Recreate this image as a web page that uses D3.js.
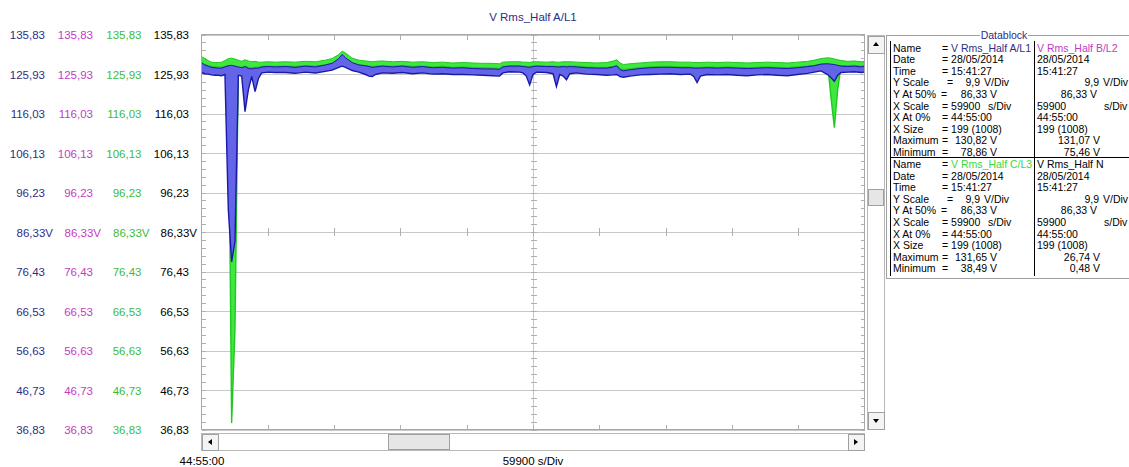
<!DOCTYPE html>
<html>
<head>
<meta charset="utf-8">
<script src="https://cdn.jsdelivr.net/npm/d3@7"></script>
<style>
body { margin: 0; background: #fff; }
svg { display: block; font-family: "Liberation Sans", Arial, sans-serif; font-size: 11.5px; }
.db text { font-size: 10.5px; }
</style>
</head>
<body>
<div id="chart"></div>
<script>
// sample number (of 199 shown) and min / max envelope of each phase, in volts
const sampleIdx = [0,1,2,3,4,5,6,7,8,9,10,11,12,13,14,15,16,17,18,20,22,25,28,31,34,37,39,41,42,43,45,47,49,50,51,52,54,57,60,63,66,69,72,75,78,81,84,87,89,90,92,95,96,97,98,99,100,103,105,106,107,108,109,110,112,115,118,121,123,124,125,126,128,131,134,137,140,143,146,147,148,149,151,154,157,160,163,166,169,172,175,178,181,183,185,187,188,189,190,191,193,195,197,198];

const phaseC_hi = [130.3,129.8,129.3,128.9,128.8,128.8,128.9,129.3,129.8,129.9,129.7,129.4,129.1,129.5,129.2,129.0,129.1,128.9,128.9,129.0,128.9,129.0,128.9,129.1,129.0,129.4,129.8,130.8,131.65,131.2,129.9,129.4,129.2,129.1,129.0,129.1,129.2,129.0,129.1,128.9,129.0,128.8,128.9,128.7,128.8,128.7,128.6,128.6,128.5,128.9,129.0,129.0,128.9,128.9,128.8,129.0,129.0,128.9,129.0,128.9,128.9,129.0,129.0,129.0,128.9,128.8,128.7,128.8,129.2,129.5,128.7,128.3,128.5,128.7,128.9,129.0,129.0,128.9,128.9,128.8,128.8,128.8,128.9,128.8,128.9,128.8,128.7,128.8,128.9,128.8,128.7,128.9,129.1,129.4,129.8,130.0,129.9,129.7,129.5,129.3,129.1,129.2,129.0,129.1];
const phaseC_lo = [128.6,128.3,128.0,127.8,127.7,127.7,127.6,127.8,128.0,38.49,62.0,127.7,127.6,127.9,127.6,127.5,127.6,127.6,127.8,127.9,127.8,127.9,127.8,128.0,127.9,128.2,128.5,129.2,129.6,129.3,128.6,128.2,128.0,127.9,127.8,127.9,128.0,127.9,128.0,127.8,127.9,127.7,127.8,127.6,127.7,127.5,127.5,127.4,127.3,127.8,128.0,128.0,127.9,127.8,127.8,127.9,128.0,127.9,127.9,127.8,127.8,127.9,127.8,127.9,127.9,127.7,127.6,127.6,127.8,128.0,127.3,127.0,127.2,127.5,127.7,127.8,127.8,127.7,127.7,127.6,127.6,127.6,127.7,127.6,127.7,127.6,127.5,127.6,127.7,127.6,127.5,127.7,127.9,128.1,128.4,128.3,120.0,112.5,122.0,128.0,128.0,128.1,127.9,128.0];

const phaseB_hi = [129.0,128.4,128.0,127.6,127.5,127.4,127.5,127.8,128.2,128.3,128.1,127.9,127.6,127.8,127.5,127.5,127.6,127.6,127.8,127.9,127.8,127.9,127.8,128.0,127.9,128.3,128.7,130.0,131.07,130.4,129.0,128.4,128.1,127.9,127.7,127.8,128.0,127.9,128.0,127.8,127.9,127.7,127.8,127.6,127.7,127.5,127.4,127.4,127.3,127.9,128.0,128.0,127.9,127.8,127.8,127.9,128.0,127.9,127.9,127.8,127.8,127.9,127.8,127.9,127.9,127.7,127.6,127.6,127.9,128.2,127.3,127.0,127.2,127.5,127.7,127.8,127.8,127.7,127.7,127.6,127.6,127.6,127.7,127.6,127.7,127.6,127.5,127.6,127.7,127.6,127.5,127.7,127.9,128.2,128.6,128.7,128.6,128.4,128.3,128.1,128.0,128.1,128.0,128.1];
const phaseB_lo = [127.5,127.2,127.0,126.8,126.8,126.7,126.6,126.9,127.0,75.46,86.0,126.8,126.5,121.0,124.0,126.5,124.5,126.2,126.9,127.0,126.9,127.0,126.8,127.1,126.9,127.3,127.6,128.3,128.6,128.4,127.6,127.2,126.8,126.5,126.0,126.4,126.9,126.8,127.0,126.8,126.9,126.7,126.8,126.6,126.6,126.5,126.4,126.3,126.2,126.9,127.1,127.0,126.9,126.2,124.0,126.5,127.0,126.9,126.8,124.5,126.6,126.5,125.5,126.7,126.9,126.7,126.6,126.5,126.6,126.8,126.0,125.8,126.0,126.3,126.5,126.6,126.6,126.5,126.6,126.2,125.0,126.3,126.5,126.4,126.5,126.4,126.3,126.4,126.5,126.3,126.2,126.5,126.8,127.1,127.3,126.5,125.0,124.0,126.0,126.9,127.0,127.1,126.9,127.0];

const phaseA_hi = [128.8,128.2,127.9,127.6,127.5,127.4,127.4,127.7,128.0,128.1,127.9,127.7,127.5,127.8,127.3,127.2,127.4,127.4,127.7,127.8,127.7,127.8,127.6,127.9,127.7,128.2,128.6,129.8,130.82,130.0,128.8,128.2,128.0,127.8,127.6,127.7,127.9,127.7,127.9,127.6,127.8,127.5,127.6,127.4,127.5,127.3,127.2,127.2,127.1,127.7,127.9,127.9,127.8,127.7,127.6,127.8,127.9,127.8,127.8,127.7,127.7,127.8,127.7,127.8,127.7,127.5,127.4,127.4,127.7,128.0,127.0,126.7,127.0,127.3,127.5,127.6,127.6,127.5,127.5,127.4,127.4,127.4,127.5,127.4,127.5,127.4,127.3,127.4,127.5,127.4,127.3,127.5,127.8,128.0,128.4,128.5,128.4,128.3,128.1,127.9,127.8,127.9,127.7,127.9];
const phaseA_lo = [126.3,126.0,125.9,125.7,125.6,125.6,125.5,125.8,92.0,78.86,84.0,125.6,125.4,116.5,122.0,125.3,121.5,124.8,126.2,126.4,126.3,126.3,126.1,126.4,126.2,126.6,126.9,127.6,127.9,127.6,126.8,126.4,125.8,125.4,125.3,125.8,126.2,126.1,126.3,126.0,126.2,125.9,126.0,125.8,125.8,125.7,125.6,125.5,125.4,126.2,126.5,126.4,126.2,125.4,123.2,125.8,126.4,126.3,126.0,122.8,125.8,125.4,124.5,126.0,126.2,125.9,125.8,125.6,125.7,125.8,125.3,125.1,125.4,125.7,125.8,125.9,126.0,125.8,125.9,125.3,123.8,125.4,125.8,125.7,125.8,125.6,125.5,125.7,125.8,125.6,125.5,125.8,126.1,126.4,126.7,125.8,125.0,124.1,125.6,126.3,126.4,126.5,126.3,126.4];

const yTickValues = [135.83, 125.93, 116.03, 106.13, 96.23, 86.33, 76.43, 66.53, 56.63, 46.73, 36.83];
const yTickLabels = ["135,83", "125,93", "116,03", "106,13", "96,23", "86,33V", "76,43", "66,53", "56,63", "46,73", "36,83"];
const axisColours = ["#2e2e86", "#c23cc2", "#3cbc3c", "#000000"];

const dbLabels = ["Name", "Date", "Time", "Y Scale", "Y At 50%", "X Scale", "X At 0%", "X Size", "Maximum", "Minimum"];
const channelNames = ["V Rms_Half A/L1", "V Rms_Half B/L2", "V Rms_Half C/L3", "V Rms_Half N"];
const channelMax = ["130,82 V", "131,07 V", "131,65 V", "26,74 V"];
const channelMin = ["78,86 V", "75,46 V", "38,49 V", "0,48 V"];
const nameColours = ["#2e2e86", "#c23cc2", "#3cd83c", "#000000"];

const W = 1129, H = 467;
const plot = { left: 201.5, right: 864.5, top: 34.5, bottom: 429.5 };

const svg = d3.select("#chart").append("svg").attr("width", W).attr("height", H);
svg.append("rect").attr("width", W).attr("height", H).attr("fill", "#fff");

const x = d3.scaleLinear().domain([0, 198]).range([plot.left, plot.right]);
const y = d3.scaleLinear().domain([36.83, 135.83]).range([plot.bottom, plot.top]);
const xDivs = d3.range(0, 11).map(i => plot.left + i * (plot.right - plot.left) / 10);

// title
svg.append("text").attr("x", 533).attr("y", 21).attr("text-anchor", "middle")
	.attr("fill", "#2e2e86").text("V Rms_Half A/L1");

// grid
const grid = svg.append("g").attr("stroke", "#c8c8c8").attr("shape-rendering", "crispEdges");
grid.selectAll("line.h").data(yTickValues).join("line")
	.attr("x1", plot.left).attr("x2", plot.right)
	.attr("y1", d => Math.round(y(d)) + 0.5).attr("y2", d => Math.round(y(d)) + 0.5);
grid.append("line").attr("x1", 533.5).attr("x2", 533.5).attr("y1", plot.top).attr("y2", plot.bottom);

// minor y ticks: left edge, right edge, centre line
const minor = d3.range(0, 51).map(i => 36.83 + i * 1.98);
const ticks = svg.append("g").attr("stroke", "#b0b0b0").attr("shape-rendering", "crispEdges");
ticks.selectAll("line.l").data(minor).join("line")
	.attr("x1", plot.left).attr("x2", plot.left + 4)
	.attr("y1", d => Math.round(y(d)) + 0.5).attr("y2", d => Math.round(y(d)) + 0.5);
ticks.selectAll("line.r").data(minor).join("line")
	.attr("x1", plot.right - 4).attr("x2", plot.right)
	.attr("y1", d => Math.round(y(d)) + 0.5).attr("y2", d => Math.round(y(d)) + 0.5);
ticks.selectAll("line.c").data(minor).join("line")
	.attr("x1", 530.5).attr("x2", 537)
	.attr("y1", d => Math.round(y(d)) + 0.5).attr("y2", d => Math.round(y(d)) + 0.5);
// x ticks: top, bottom, middle line
xDivs.slice(1, 10).forEach(px => {
	const cx = Math.round(px) + 0.5;
	ticks.append("line").attr("x1", cx).attr("x2", cx).attr("y1", plot.top).attr("y2", plot.top + 5);
	ticks.append("line").attr("x1", cx).attr("x2", cx).attr("y1", plot.bottom - 5).attr("y2", plot.bottom);
	ticks.append("line").attr("x1", cx).attr("x2", cx).attr("y1", y(86.33) - 4).attr("y2", y(86.33) + 4);
});

// traces
svg.append("clipPath").attr("id", "clip").append("rect")
	.attr("x", plot.left).attr("y", plot.top).attr("width", plot.right - plot.left).attr("height", plot.bottom - plot.top);

const band = (lo, hi) => sampleIdx.map((t, i) => ({ t, lo: lo[i], hi: hi[i] }));
const series = [
	{ data: band(phaseB_lo, phaseB_hi), fill: "#d46ad4", stroke: "#b82cb8" },
	{ data: band(phaseC_lo, phaseC_hi), fill: "#3ee83e", stroke: "#22c822" },
	{ data: band(phaseA_lo, phaseA_hi), fill: "#6464e8", stroke: "#1a1aa8" }
];
const area = d3.area().x(d => x(d.t)).y0(d => y(d.lo)).y1(d => y(d.hi));
const lineLo = d3.line().x(d => x(d.t)).y(d => y(d.lo));
const lineHi = d3.line().x(d => x(d.t)).y(d => y(d.hi));
const traces = svg.append("g").attr("clip-path", "url(#clip)");
series.forEach(s => {
	traces.append("path").attr("d", area(s.data)).attr("fill", s.fill);
	traces.append("path").attr("d", lineLo(s.data)).attr("fill", "none").attr("stroke", s.stroke).attr("stroke-width", 1.4);
	traces.append("path").attr("d", lineHi(s.data)).attr("fill", "none").attr("stroke", s.stroke).attr("stroke-width", 1);
});

// frame
svg.append("rect").attr("x", plot.left).attr("y", plot.top)
	.attr("width", plot.right - plot.left).attr("height", plot.bottom - plot.top)
	.attr("fill", "none").attr("stroke", "#a8a8a8").attr("shape-rendering", "crispEdges");

// y labels, four colour columns
const colRight = [45, 93, 141.5, 189];
axisColours.forEach((c, ci) => {
	svg.append("g").selectAll("text").data(yTickValues).join("text")
		.attr("x", (d, i) => colRight[ci] + (yTickLabels[i].endsWith("V") ? 8 : 0))
		.attr("y", d => y(d) + 4.5)
		.attr("text-anchor", "end").attr("fill", c)
		.text((d, i) => yTickLabels[i]);
});

// x labels
svg.append("text").attr("x", 202).attr("y", 465).attr("text-anchor", "middle").text("44:55:00");
svg.append("text").attr("x", 533).attr("y", 465).attr("text-anchor", "middle").text("59900 s/Div");

// scrollbars
const sb = svg.append("g").attr("shape-rendering", "crispEdges");
const button = (bx, by, bw, bh) => sb.append("rect").attr("x", bx + 0.5).attr("y", by + 0.5)
	.attr("width", bw).attr("height", bh).attr("fill", "#f4f4f4").attr("stroke", "#a0a0a0");
sb.append("rect").attr("x", 201.5).attr("y", 433.5).attr("width", 663).attr("height", 17)
	.attr("fill", "#fff").attr("stroke", "#b8b8b8");
button(202, 434, 16, 16);
button(848, 434, 16, 16);
sb.append("rect").attr("x", 388.5).attr("y", 434.5).attr("width", 61).attr("height", 15)
	.attr("fill", "#e6e6e6").attr("stroke", "#a0a0a0");
sb.append("rect").attr("x", 867.5).attr("y", 35.5).attr("width", 17).attr("height", 394)
	.attr("fill", "#fff").attr("stroke", "#b8b8b8");
button(868, 36, 16, 17);
button(868, 412, 16, 17);
sb.append("rect").attr("x", 868.5).attr("y", 189.5).attr("width", 15).attr("height", 16)
	.attr("fill", "#e6e6e6").attr("stroke", "#a0a0a0");
const arrow = pts => svg.append("path").attr("d", d3.line()(pts) + "Z").attr("fill", "#000");
arrow([[208, 442], [212, 439], [212, 445]]);
arrow([[858, 442], [854, 439], [854, 445]]);
arrow([[876, 42], [873, 46], [879, 46]]);
arrow([[876, 423], [873, 419], [879, 419]]);

// datablock
const db = svg.append("g").attr("class", "db");
db.append("rect").attr("x", 886.5).attr("y", 35.5).attr("width", 260).attr("height", 243)
	.attr("fill", "none").attr("stroke", "#a0a0a0");
db.append("rect").attr("x", 887.5).attr("y", 36.5).attr("width", 260).attr("height", 241)
	.attr("fill", "none").attr("stroke", "#fff");
db.append("rect").attr("x", 980).attr("y", 30).attr("width", 48).attr("height", 10).attr("fill", "#fff");
db.append("text").attr("x", 1004).attr("y", 39).attr("text-anchor", "middle").attr("fill", "#2e2e86").text("Datablock");
db.append("line").attr("x1", 890.5).attr("x2", 890.5).attr("y1", 41).attr("y2", 276).attr("stroke", "#000");
db.append("line").attr("x1", 1034.5).attr("x2", 1034.5).attr("y1", 41).attr("y2", 276).attr("stroke", "#000");
db.append("line").attr("x1", 890).attr("x2", 1129).attr("y1", 157.5).attr("y2", 157.5).attr("stroke", "#000");

const rowStep = 11.6;
const blockTop = [51.5, 168];
const txt = (tx, ty, s, anchor, fill) => db.append("text").attr("x", tx).attr("y", ty)
	.attr("text-anchor", anchor || "start").attr("fill", fill || "#000").text(s);

[[0, 1], [2, 3]].forEach((pair, b) => {
	const ry = i => blockTop[b] + i * rowStep;
	dbLabels.forEach((l, i) => txt(893, ry(i), l));
	// left column, with "="
	const a = pair[0];
	const n = db.append("text").attr("x", 942).attr("y", ry(0));
	n.append("tspan").text("= ");
	n.append("tspan").attr("fill", nameColours[a]).text(channelNames[a]);
	txt(942, ry(1), "= 28/05/2014");
	txt(942, ry(2), "= 15:41:27");
	txt(947, ry(3), "=");
	txt(980, ry(3), "9,9", "end");
	txt(984, ry(3), "V/Div");
	txt(941, ry(4), "=");
	txt(997, ry(4), "86,33 V", "end");
	txt(942, ry(5), "= 59900");
	txt(988, ry(5), "s/Div");
	txt(942, ry(6), "= 44:55:00");
	txt(942, ry(7), "= 199 (1008)");
	txt(942, ry(8), "=");
	txt(997, ry(8), channelMax[a], "end");
	txt(942, ry(9), "=");
	txt(997, ry(9), channelMin[a], "end");
	// right column
	const c = pair[1];
	txt(1037, ry(0), channelNames[c], "start", nameColours[c]);
	txt(1037, ry(1), "28/05/2014");
	txt(1037, ry(2), "15:41:27");
	txt(1099, ry(3), "9,9", "end");
	txt(1103, ry(3), "V/Div");
	txt(1097, ry(4), "86,33 V", "end");
	txt(1037, ry(5), "59900");
	txt(1104, ry(5), "s/Div");
	txt(1037, ry(6), "44:55:00");
	txt(1037, ry(7), "199 (1008)");
	txt(1100, ry(8), channelMax[c], "end");
	txt(1100, ry(9), channelMin[c], "end");
});
</script>
</body>
</html>
